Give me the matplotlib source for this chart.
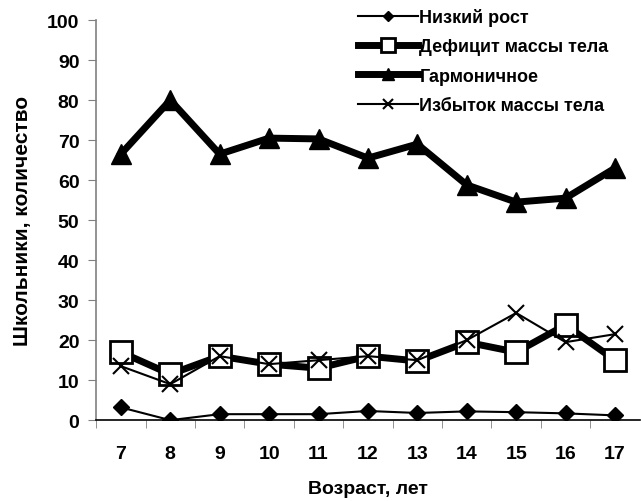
import matplotlib
matplotlib.use("Agg")
import matplotlib.pyplot as plt

ages = [7, 8, 9, 10, 11, 12, 13, 14, 15, 16, 17]
low_height = [3.2, 0, 1.5, 1.5, 1.5, 2.3, 1.8, 2.2, 2.0, 1.7, 1.2]
deficit = [17, 11.5, 16, 14, 13, 16, 14.8, 19.5, 17, 23.8, 15]
harmonic = [66.5, 80, 66.5, 70.5, 70.3, 65.5, 69, 58.8, 54.5, 55.5, 63]
excess = [13.5, 9, 16, 14, 15, 16, 15, 20, 26.8, 19.5, 21.5]
labels = ["Низкий рост", "Дефицит массы тела", "Гармоничное", "Избыток массы тела"]

plt.rcParams['font.family'] = ['Liberation Sans', 'DejaVu Sans']
plt.rcParams['font.weight'] = 'bold'

fig = plt.figure(figsize=(6.41, 5.02), dpi=100)
ax = fig.add_axes([0.150, 0.161, 0.848, 0.797])

ax.plot(ages, low_height, color='black', lw=1.5, marker='D', ms=8, mfc='black', label=labels[0])
ax.plot(ages, deficit, color='black', lw=5, marker='s', ms=16, mfc='white', mew=2, label=labels[1])
ax.plot(ages, harmonic, color='black', lw=5, marker='^', ms=15, mfc='black', label=labels[2])
ax.plot(ages, excess, color='black', lw=1.5, marker='x', ms=12, mew=1.5, label=labels[3])

ax.set_xlim(6.5, 17.5)
ax.set_ylim(0, 100)
ax.set_yticks(range(0, 101, 10))
ax.set_xticks(ages)
ax.set_xticks([a + 0.5 for a in ages[:-1]] + [6.5], minor=True)
ax.tick_params(axis='x', which='major', length=0, pad=18, labelsize=14)
ax.tick_params(axis='x', which='minor', length=6, direction='out', color='#808080')
ax.tick_params(axis='y', length=6, direction='out', color='#808080', labelsize=14, pad=6)
for s in ['top', 'right']:
    ax.spines[s].set_visible(False)
ax.spines['left'].set_color('#808080')
ax.spines['bottom'].set_color('black')
ax.spines['left'].set_linewidth(1.2)
ax.spines['bottom'].set_linewidth(1.2)
for lab in ax.get_xticklabels() + ax.get_yticklabels():
    lab.set_fontweight('bold')

ax.set_xlabel("Возраст, лет", fontsize=14, fontweight='bold', labelpad=13)
ax.set_ylabel("Школьники, количество", fontsize=15, fontweight='bold', labelpad=11)

leg = fig.legend(loc='upper left', bbox_to_anchor=(0.5585, 0.982), frameon=False, fontsize=13,
                 handlelength=3.3, handletextpad=0.1, labelspacing=0.68, markerscale=0.6,
                 borderpad=0, borderaxespad=0)
for t in leg.get_texts():
    t.set_fontweight('bold')

fig.savefig("out.png", dpi=100)
